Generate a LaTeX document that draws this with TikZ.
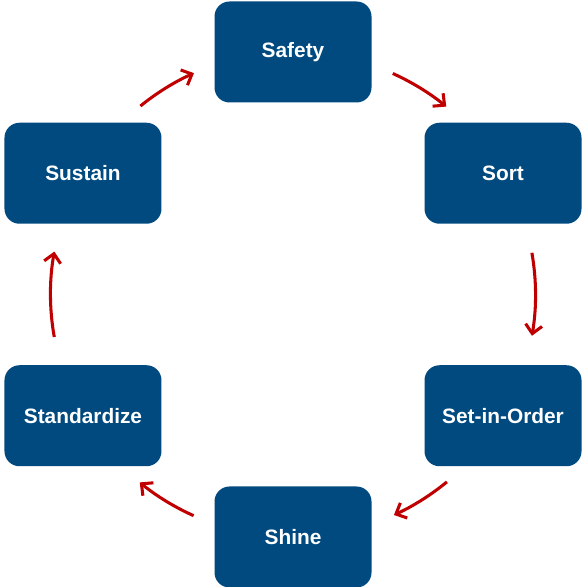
\documentclass[tikz,border=0pt]{standalone}
\usepackage{fontspec}
\setmainfont{Liberation Sans}
\usetikzlibrary{calc,arrows.meta,positioning}
\definecolor{boxblue}{RGB}{0,74,128}
\definecolor{flowred}{RGB}{192,0,0}

\tikzset{
  phase/.style={fill=boxblue,rounded corners=0.45cm,minimum width=4.71cm,minimum height=3.03cm,
    text=white,font=\bfseries\fontsize{17.8}{21}\selectfont},
  flow/.style={draw=flowred,line width=2.6pt,-{Straight Barb[length=2.6mm,width=5mm]}}
}

\begin{document}
\begin{tikzpicture}
\useasboundingbox (0,0) rectangle (17.52,17.61);
\coordinate (hub) at (8.79,8.775);
\def\R{7.275}

\def\phases{90/safety/{Safety},30/sort/{Sort},-30/order/{Set-in-Order},-90/shine/{Shine},-150/standard/{Standardize},150/sustain/{Sustain}}
\foreach \a / \n / \txt in \phases
  \node [phase] (\n) at ($(hub)+(\a:\R)$) {\txt};

% arrows round the ring
\def\ring{1/65.7/50.8,2/9.9/-9.8,3/-50.6/-65.4,4/-114.2/-129.2,5/190.1/169.8,6/129/114.1}
\foreach \i / \s / \e in \ring {
  \coordinate (from\i) at ($(hub)+(\s:\R)$);
  \draw [flow] (from\i) arc [start angle=\s,end angle=\e,radius=\R];
}

\end{tikzpicture}
\end{document}
